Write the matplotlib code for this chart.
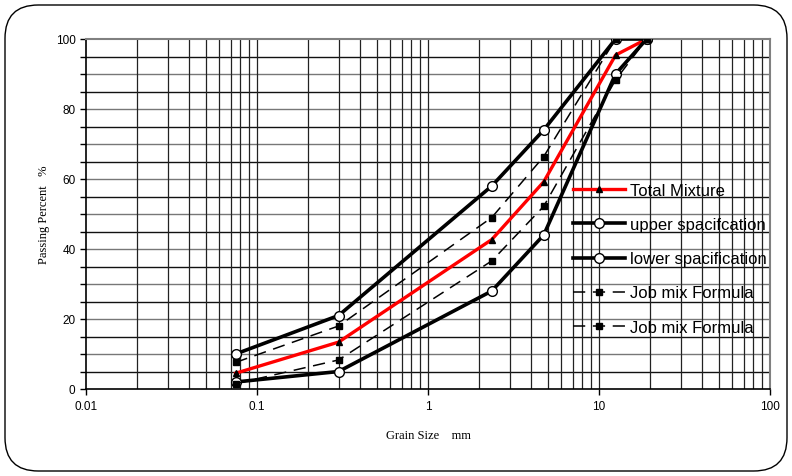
import matplotlib
matplotlib.use("Agg")
import matplotlib.pyplot as plt
from matplotlib.patches import FancyBboxPatch
from matplotlib.ticker import FixedLocator, NullFormatter

sieve = [0.075, 0.3, 2.36, 4.75, 12.5, 19]
total_mix = [4.5, 13.4, 42.7, 59.2, 95.4, 100]
upper_spec = [10, 21, 58, 74, 100, 100]
lower_spec = [2, 5, 28, 44, 90, 100]
jmf_upper = [7.6, 18, 49, 66.4, 100, 100]
jmf_lower = [1.5, 8.3, 36.6, 52.2, 88.3, 100]

labels = ["Total Mixture", "upper spacifcation", "lower spacification",
          "Job mix Formula", "Job mix Formula"]
xticks = [0.01, 0.1, 1, 10, 100]
xtick_labels = ["0.01", "0.1", "1", "10", "100"]
yticks = [0, 20, 40, 60, 80, 100]

W, H = 792, 477
fig = plt.figure(figsize=(W / 100, H / 100), dpi=100)

# rounded border
border = FancyBboxPatch((5 / W, 5 / H), (782) / W, (466) / H,
                        boxstyle="round,pad=0,rounding_size=0.042",
                        transform=fig.transFigure, fill=False,
                        edgecolor="black", linewidth=1.0, mutation_aspect=W / H)
fig.patches.append(border)

ax = fig.add_axes([86 / W, 1 - 390 / H, (770 - 86) / W, (390 - 40) / H])
ax.set_xscale("log")
ax.set_xlim(0.01, 100)
ax.set_ylim(0, 100)

# grid
for y in range(5, 100, 5):
    col = "#777777" if y % 10 == 0 else "#111111"
    ax.axhline(y, color=col, linewidth=1.0, zorder=1)
for dec in [0.01, 0.1, 1, 10]:
    for m in range(1, 10):
        xv = dec * m
        if xv <= 0.01:
            continue
        ax.axvline(xv, color="#222222", linewidth=0.9, zorder=1)

dash = (0, (8, 5))
ax.plot(sieve, total_mix, color="#ff0000", linewidth=2.4, marker="^",
        markersize=5, markerfacecolor="black", markeredgecolor="black",
        label=labels[0], zorder=4)
ax.plot(sieve, upper_spec, color="black", linewidth=2.6, marker="o",
        markersize=7, markerfacecolor="white", markeredgecolor="black",
        markeredgewidth=1.0, label=labels[1], zorder=5)
ax.plot(sieve, lower_spec, color="black", linewidth=2.6, marker="o",
        markersize=7, markerfacecolor="white", markeredgecolor="black",
        markeredgewidth=1.0, label=labels[2], zorder=5)
ax.plot(sieve, jmf_upper, color="black", linewidth=1.1, linestyle=dash,
        marker="s", markersize=5, markerfacecolor="black",
        label=labels[3], zorder=6)
ax.plot(sieve, jmf_lower, color="black", linewidth=1.1, linestyle=dash,
        marker="s", markersize=5, markerfacecolor="black",
        label=labels[4], zorder=6)

for s in ["top", "right"]:
    ax.spines[s].set_color("#808080")
    ax.spines[s].set_linewidth(1.5)
for s in ["left", "bottom"]:
    ax.spines[s].set_color("black")
    ax.spines[s].set_linewidth(1.2)

ax.xaxis.set_major_locator(FixedLocator(xticks))
ax.set_xticklabels(xtick_labels)
ax.xaxis.set_minor_locator(FixedLocator([]))
ax.xaxis.set_minor_formatter(NullFormatter())
ax.set_yticks(yticks)
ax.set_yticks(range(0, 101, 5), minor=True)
ax.tick_params(axis="both", which="both", direction="out", length=4,
               width=1, color="black", labelsize=8.5,
               labelfontfamily="Liberation Sans")
ax.tick_params(axis="x", pad=4)

ax.set_ylabel("Passing Percent   %", family="Liberation Serif", fontsize=9,
              labelpad=4)
ax.set_xlabel("Grain Size    mm", family="Liberation Serif", fontsize=9,
              labelpad=12)

leg = ax.legend(loc="upper left", bbox_to_anchor=(573 / W, 1 - 184 / H),
                bbox_transform=fig.transFigure, frameon=False,
                prop={"family": "Liberation Sans", "size": 12},
                handlelength=3.1, handletextpad=0.3, labelspacing=1.15,
                borderpad=0, borderaxespad=0, numpoints=1)

fig.savefig("out.png", dpi=100)
